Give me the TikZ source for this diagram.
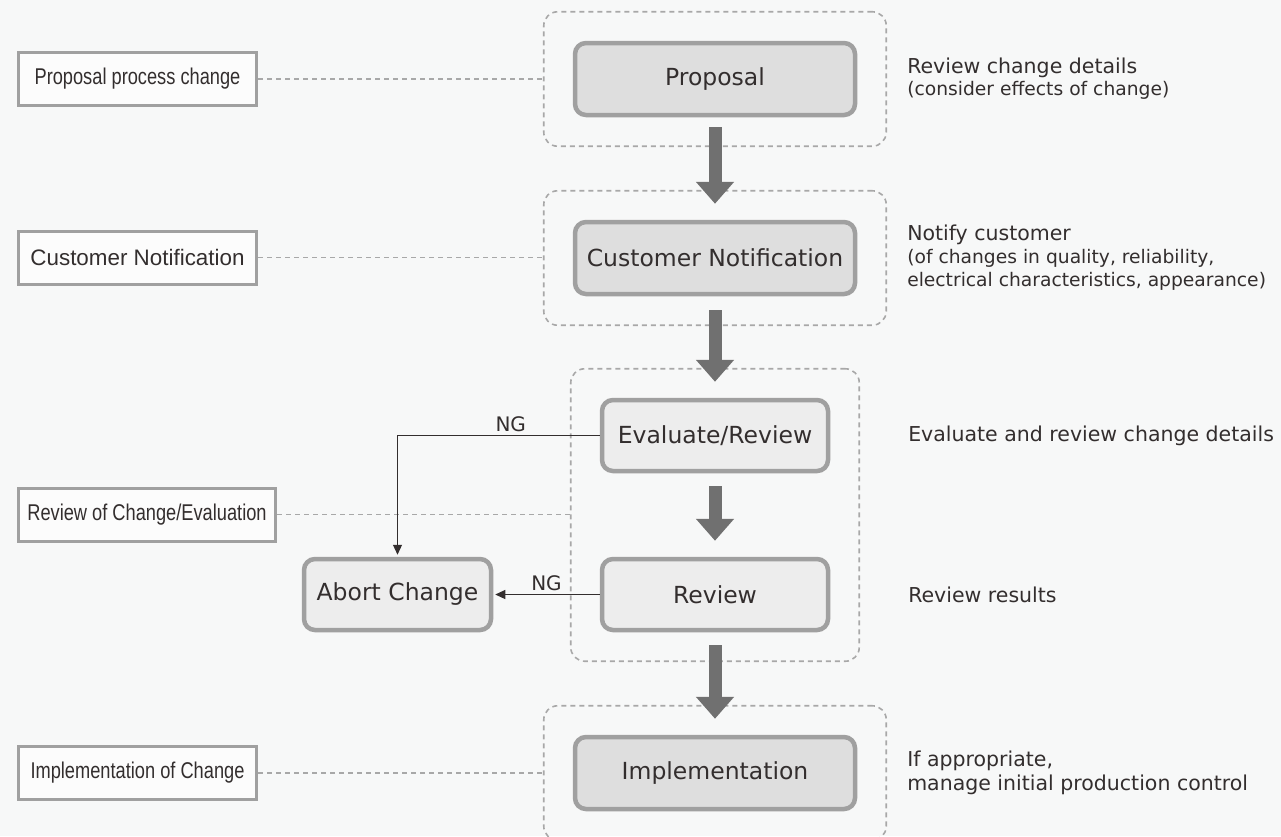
\documentclass[tikz,border=0pt]{standalone}
\usepackage{fontspec}
\setmainfont{DejaVu Sans}
\newfontfamily\narrowsans[FakeStretch=0.8]{Liberation Sans}
\newfontfamily\plainsans{Liberation Sans}
\usetikzlibrary{arrows.meta,positioning,fit}

\definecolor{pagebg}{HTML}{F7F8F8}
\definecolor{boxgray}{HTML}{DEDEDE}
\definecolor{lightgray}{HTML}{EDEDED}
\definecolor{framegray}{HTML}{A0A0A0}
\definecolor{dashgray}{HTML}{A8A8A8}
\definecolor{arrowgray}{HTML}{707070}
\definecolor{inkgray}{HTML}{332E2E}

\newcommand\smallnotefont{\fontsize{18.7}{23}\selectfont}

\tikzset{
  mainbox/.style={draw=framegray, line width=4.5pt, rounded corners=11pt, fill=boxgray,
    minimum width=280pt, minimum height=72pt, text=inkgray, font=\fontsize{23.5}{28}\selectfont},
  subbox/.style={mainbox, fill=lightgray, minimum width=226pt, minimum height=71pt},
  sidebox/.style={draw=framegray, line width=3pt, fill=white!60!pagebg,
    minimum width=238pt, minimum height=53pt, text=inkgray, font=\narrowsans\fontsize{22.8}{26}\selectfont},
  groupbox/.style={draw=dashgray, line width=1.6pt, dash pattern=on 5pt off 4pt, rounded corners=14pt, inner sep=29pt},
  guide/.style={draw=dashgray, line width=1.6pt, dash pattern=on 5pt off 4pt},
  bigarrow/.style={draw=arrowgray, line width=13pt, -{Triangle[length=22pt, width=37pt]}},
  ngline/.style={draw=inkgray, line width=1.1pt, -{Triangle[length=10pt, width=9pt]}},
  note/.style={anchor=west, align=left, text=inkgray, inner sep=0pt, font=\fontsize{20.5}{24}\selectfont},
}

\begin{document}
\begin{tikzpicture}[x=1pt, y=-1pt]
\useasboundingbox (0,0) rectangle (1281,836);
\fill[pagebg] (0,0) rectangle (1281,836);

% main flow
\node[mainbox] (prop) at (715,79) {Proposal};
\node[mainbox] (cust) at (715,258) {Customer Notification};
\node[subbox] (eval) at (715,435.5) {Evaluate/Review};
\node[subbox] (review) at (715,594.5) {Review};
\node[mainbox] (impl) at (715,773) {Implementation};
\node[subbox, minimum width=187pt] (abort) at (397.5,594.5) {Abort Change};

% dashed groups
\node[groupbox, fit=(prop)] (g1) {};
\node[groupbox, fit=(cust)] (g2) {};
\node[groupbox, fit=(eval) (review)] (g3) {};
\node[groupbox, fit=(impl)] (g4) {};

% left labels
\node[sidebox] (lprop) at (137.5,79) {Proposal process change};
\node[sidebox, font=\plainsans\fontsize{22.4}{26}\selectfont] (lcust) at (137.5,257.5) {Customer Notification};
\node[sidebox, minimum width=257pt] (leval) at (147,514.5) {Review of Change/Evaluation};
\node[sidebox] (limpl) at (137.5,773) {Implementation of Change};

\draw[guide] (lprop.east) -- (lprop.east -| g1.west);
\draw[guide] (lcust.east) -- (lcust.east -| g2.west);
\draw[guide] (leval.east) -- (leval.east -| g3.west);
\draw[guide] (limpl.east) -- (limpl.east -| g4.west);

% right notes
\node[note, right=20pt of g1] (nprop) {Review change details\\[-2pt]
  {\smallnotefont (consider effects of change)}};
\node[note, right=20pt of g2] (ncust) {Notify customer\\[-1pt]
  {\smallnotefont (of changes in quality, reliability,}\\[-1pt]
  {\smallnotefont electrical characteristics, appearance)}};
\node[note] (neval) at ([xshift=48pt]g3.east |- eval) {Evaluate and review change details};
\node[note] (nreview) at ([xshift=48pt]g3.east |- review) {Review results};
\node[note, right=20pt of g4] (nimpl) {If appropriate,\\
  manage initial production control};

% arrows
\draw[bigarrow] ([yshift=-10pt]prop.south) -- ([yshift=16pt]cust.north);
\draw[bigarrow] ([yshift=-14pt]cust.south) -- ([yshift=16pt]eval.north);
\draw[bigarrow] ([yshift=-13pt]eval.south) -- ([yshift=16pt]review.north);
\draw[bigarrow] ([yshift=-13pt]review.south) -- ([yshift=16pt]impl.north);

\draw[ngline, shorten >=2pt] (eval.west) -| (abort.north)
  node[pos=0.22, above, text=inkgray, font=\fontsize{20}{24}\selectfont] {NG};
\draw[ngline, shorten >=2pt] (review.west) -- (abort.east)
  node[midway, above, text=inkgray, font=\fontsize{20}{24}\selectfont] {NG};
\end{tikzpicture}
\end{document}
